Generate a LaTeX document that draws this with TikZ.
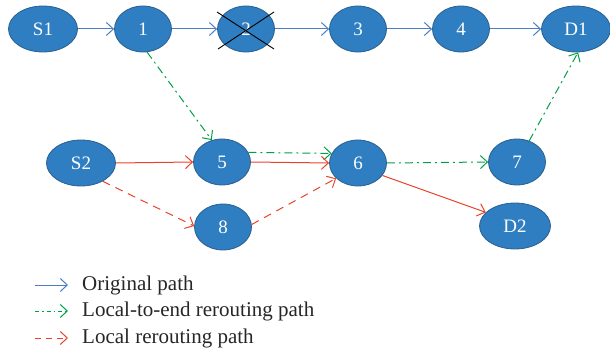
\documentclass[tikz,border=0pt]{standalone}
\usepackage{fontspec}
\setmainfont{Liberation Serif}
\usetikzlibrary{shapes.geometric,arrows.meta}
\definecolor{nodefill}{HTML}{2E7EC1}
\definecolor{nodeedge}{HTML}{2A5F8F}
\definecolor{origblue}{HTML}{4C7DC0}
\definecolor{lgreen}{HTML}{00A046}
\definecolor{lred}{HTML}{E8432A}
\tikzset{
  nd/.style={ellipse, fill=nodefill, draw=nodeedge, line width=0.8pt, text=white,
    minimum width=57pt, minimum height=46pt, inner sep=0pt,
    font=\fontsize{19}{22}\selectfont},
  wide/.style={minimum width=69pt},
  tip/.style={-{Straight Barb[length=7pt,width=13pt,line width=1pt]}},
  orig/.style={tip, draw=origblue, line width=1pt},
  l2e/.style={tip, draw=lgreen, line width=1pt, dash pattern=on 8pt off 4pt on 2pt off 4pt},
  loc/.style={tip, draw=lred, line width=1pt},
  locd/.style={tip, draw=lred, line width=1pt, dash pattern=on 8pt off 6pt},
  lgtext/.style={anchor=west, inner sep=0pt, font=\fontsize{21}{24}\selectfont, text=black!85}
}
\begin{document}
\begin{tikzpicture}[x=1pt,y=-1pt]
\useasboundingbox (0,0) rectangle (610,355);
% top row
\node[nd,wide] (S1) at (43,29) {S1};
\node[nd] (n1) at (143,29) {1};
\node[nd] (n2) at (246,29) {2};
\node[nd] (n3) at (358,29) {3};
\node[nd] (n4) at (461,29) {4};
\node[nd,wide] (D1) at (576,29) {D1};
% middle rows
\node[nd,wide] (S2) at (81,163) {S2};
\node[nd] (n5) at (222,162) {5};
\node[nd] (n6) at (358,163) {6};
\node[nd] (n7) at (517,162) {7};
\node[nd] (n8) at (223,227) {8};
\node[nd,wide,minimum width=71pt] (D2) at (515,226) {D2};
% cross over node 2
\coordinate (c1) at (217,12);
\coordinate (c2) at (274,49);
\coordinate (c3) at (218,49);
\coordinate (c4) at (274,12);
\draw[black, line width=0.9pt] (c1) -- (c2);
\draw[black, line width=0.9pt] (c3) -- (c4);
% original path
\draw[orig] (S1.east) -- (n1.west);
\draw[orig] (n1.east) -- (n2.west);
\draw[orig] (n2.east) -- (n3.west);
\draw[orig] (n3.east) -- (n4.west);
\draw[orig] (n4.east) -- (D1.west);
% local-to-end rerouting
\draw[l2e] (n1.-80) -- (n5.115);
\draw[l2e] (n5.20) -- (n6.160);
\draw[l2e] (n6.east) -- (n7.west);
\draw[l2e] (n7.60) -- (D1.-85);
% local rerouting
\draw[loc] (S2.east) -- (n5.west);
\draw[loc] (n5.east) -- (n6.west);
\draw[loc] (n6.-27) -- (D2.155);
\draw[locd] (S2.-40) -- (n8.178);
\draw[locd] (n8.5) -- (n6.-145);
% legend
\node[lgtext] (t1) at (82,285) {Original path};
\node[lgtext] (t2) at (82,311) {Local-to-end rerouting path};
\node[lgtext] (t3) at (82,338) {Local rerouting path};
\coordinate (a1) at (35,285);
\coordinate (b1) at (68,285);
\coordinate (a2) at (35,311);
\coordinate (b2) at (68,311);
\coordinate (a3) at (35,338);
\coordinate (b3) at (68,338);
\draw[orig] (a1) -- (b1);
\draw[l2e, dash pattern=on 4pt off 3pt on 1.5pt off 3pt] (a2) -- (b2);
\draw[locd, dash pattern=on 6pt off 5pt] (a3) -- (b3);
\end{tikzpicture}
\end{document}
